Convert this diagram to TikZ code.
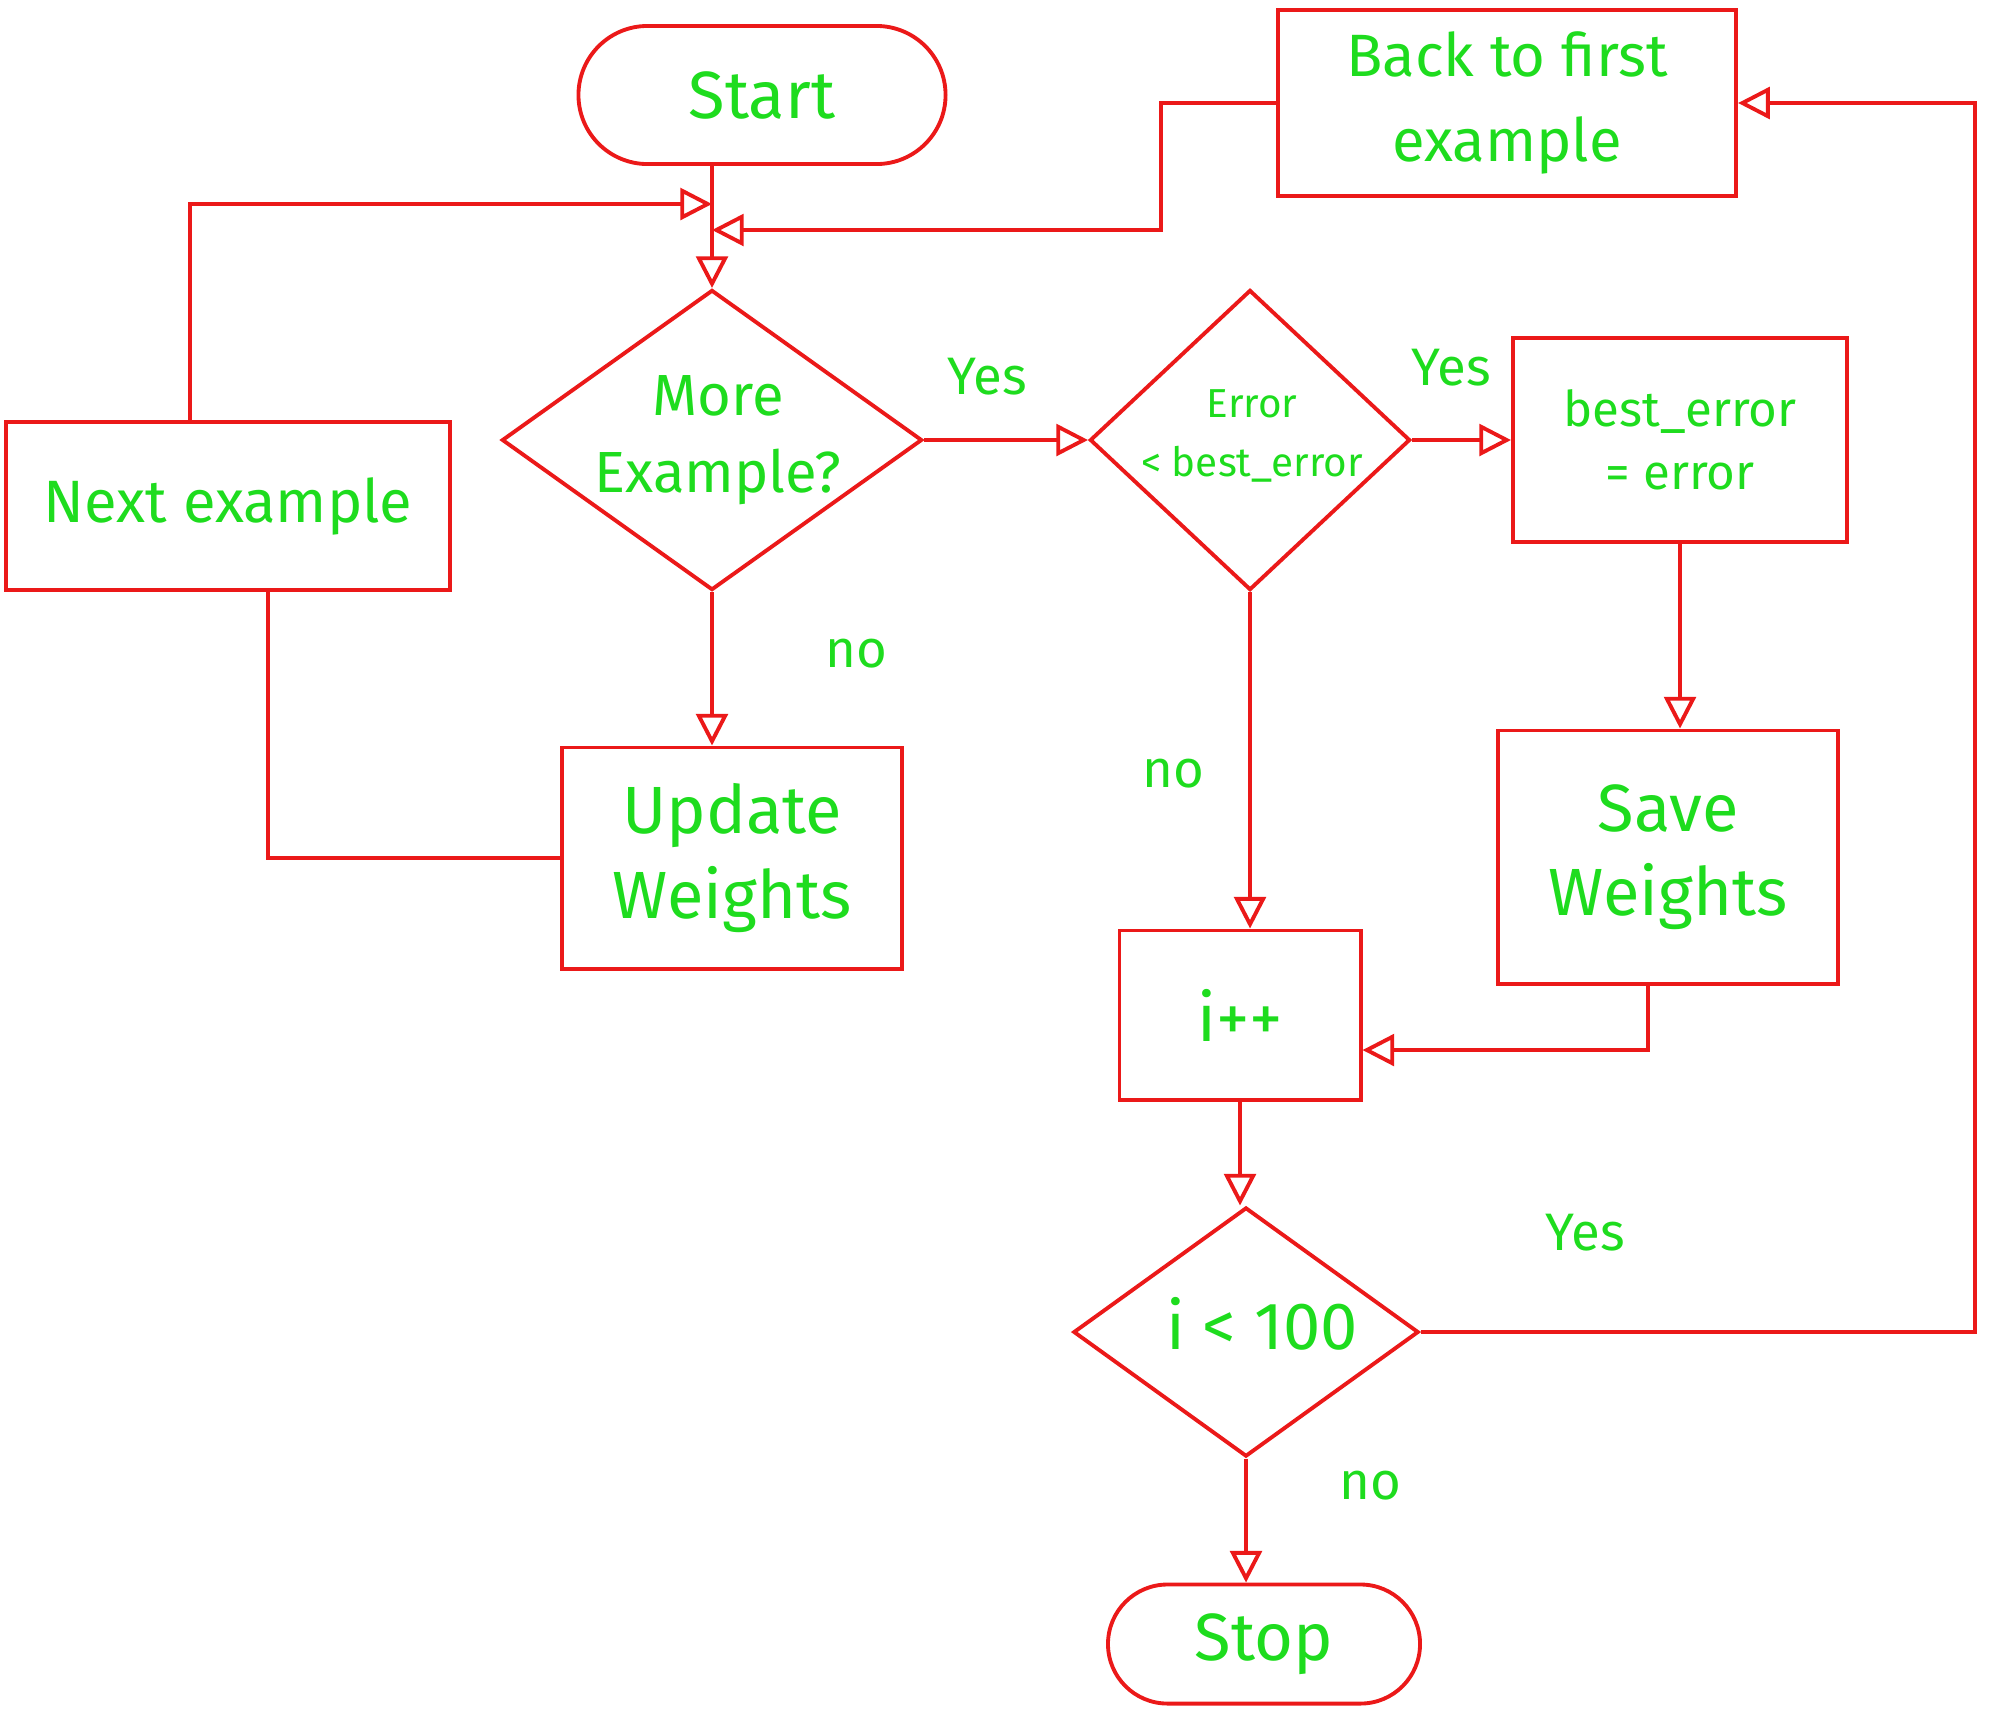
\documentclass[tikz,border=0pt]{standalone}
\usepackage{fontspec}
\setmainfont{Fira Sans}
\usetikzlibrary{shapes.geometric,shapes.misc,arrows.meta}
\definecolor{ink}{RGB}{235,25,25}
\definecolor{leaf}{RGB}{30,220,30}
\begin{document}
\begin{tikzpicture}[x=0.01cm,y=-0.01cm,line width=1.1pt,
  every node/.style={text=leaf,align=center,font=\fontsize{19}{24}\selectfont},
  box/.style={draw=ink,rectangle,inner sep=4pt},
  term/.style={draw=ink,rounded rectangle,inner sep=4pt},
  decision/.style={draw=ink,diamond,inner sep=0pt},
  small/.style={font=\fontsize{14}{18}\selectfont},
  tag/.style={font=\fontsize{15}{18}\selectfont},
  flow/.style={draw=ink,-{Triangle[open,length=9pt,width=9pt]}},
  link/.style={draw=ink}]
\useasboundingbox (0,0) rectangle (2004,1708);

% process steps
\node[term,minimum width=3.95cm,minimum height=1.38cm] (start) at (762,95) {Start};
\node[box,minimum width=4.58cm,minimum height=1.86cm,font=\fontsize{17}{24}\selectfont] (back) at (1507,103) {Back to first\\example};
\node[box,minimum width=4.44cm,minimum height=1.68cm,font=\fontsize{17}{22}\selectfont] (next) at (228,506) {Next example};
\node[decision,minimum width=4.2cm,minimum height=3.0cm] (more) at (712,440) {};
\node[font=\fontsize{16.5}{22}\selectfont] (moretxt) at (718,440) {More\\Example?};
\node[decision,minimum width=3.2cm,minimum height=3.0cm] (err) at (1250,440) {};
\node[font=\fontsize{11.5}{17}\selectfont] (errtxt) at (1252,436) {Error\\< best\_error};
\node[box,minimum width=3.34cm,minimum height=2.04cm,small] (best) at (1680,440) {best\_error\\= error};
\node[box,minimum width=3.39cm,minimum height=2.21cm] (update) at (732,858) {Update\\Weights};
\node[box,minimum width=3.40cm,minimum height=2.53cm] (save) at (1668,857) {Save\\Weights};
\node[box,minimum width=2.41cm,minimum height=1.69cm] (inc) at (1240,1015) {i++};
\node[decision,minimum width=3.45cm,minimum height=2.49cm] (lt) at (1246,1332) {};
\node (lttxt) at (1262,1324) {i < 100};
\node[term,minimum width=3.40cm,minimum height=1.19cm] (stop) at (1264,1644) {Stop};

% joins on the entry line of the loop
\coordinate (jn) at (more.north |- 0,204);
\coordinate (jb) at (more.north |- 0,230);
\coordinate (rr) at (1975,0);

% connectors
\draw[flow] (start.south -| more.north) -- (more.north);
\draw[flow] ([xshift=-0.38cm]next.north) |- (jn);
\draw[flow] (back.west) -- ++(-115,0) |- (jb);
\draw[flow] (more.east) -- (err.west);
\draw[flow] (err.east) -- (best.west);
\draw[flow] (more.south) -- (more.south |- update.north);
\draw[link] (update.west) -| ([xshift=0.4cm]next.south);
\draw[flow] (err.south) -- (err.south |- inc.north);
\draw[flow] (best.south) -- (best.south |- save.north);
\draw[flow] ([xshift=-0.2cm]save.south) |- ([yshift=-0.35cm]inc.east);
\draw[flow] (inc.south) -- (inc.south |- lt.north);
\draw[flow] (lt.east) -- (lt.east -| rr) -- (rr |- back.east) -- (back.east);
\draw[flow] (lt.south) -- (lt.south |- stop.north);

% branch labels
\node[tag] (y1) at (987,377) {Yes};
\node[tag] (n1) at (856,654) {no};
\node[tag] (y2) at (1451,368) {Yes};
\node[tag] (n2) at (1173,774) {no};
\node[tag] (y3) at (1585,1233) {Yes};
\node[tag] (n3) at (1370,1486) {no};
\end{tikzpicture}
\end{document}
